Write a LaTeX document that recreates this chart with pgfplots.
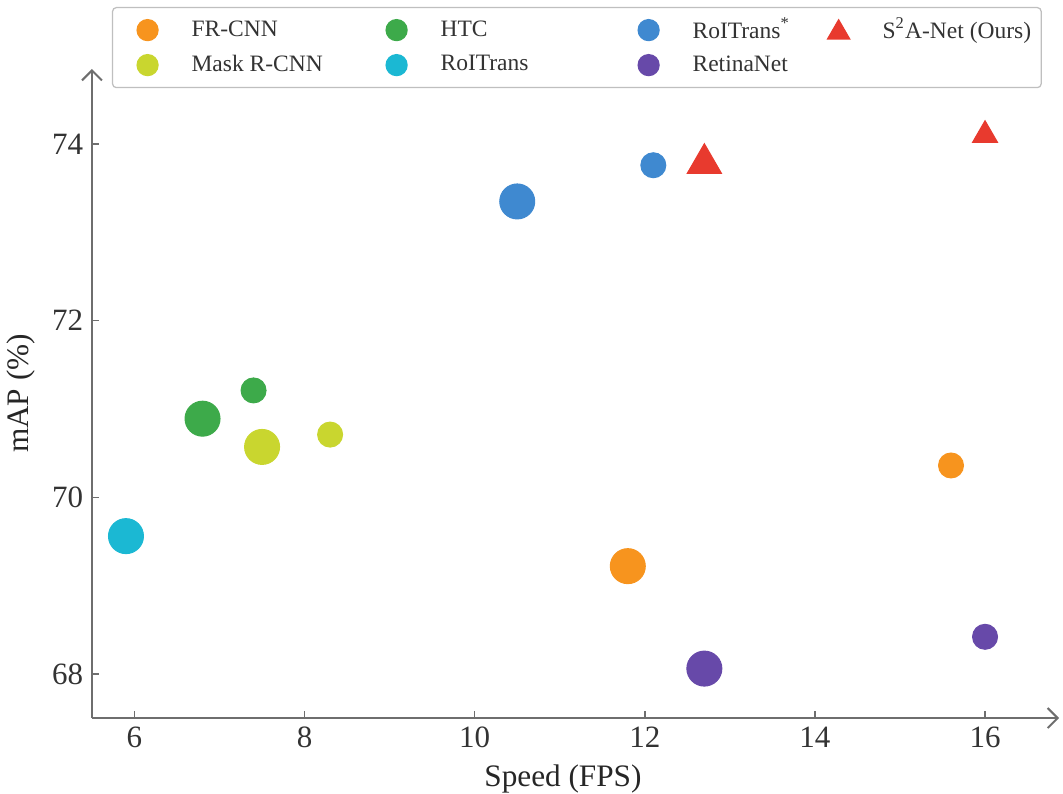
\documentclass[border=0pt]{standalone}
\usepackage{fontspec}
\setmainfont{Liberation Serif}
\usepackage{pgfplots}
\pgfplotsset{compat=1.18}
\usetikzlibrary{arrows.meta}

\definecolor{frcnn}{HTML}{F7941E}
\definecolor{maskr}{HTML}{C9D62F}
\definecolor{htc}{HTML}{3DAA4A}
\definecolor{roit}{HTML}{1BB8D3}
\definecolor{roitstar}{HTML}{3F89D0}
\definecolor{retina}{HTML}{6749A9}
\definecolor{s2a}{HTML}{E83A2E}
\definecolor{axisgray}{HTML}{6E6E6E}

\pgfplotsset{
  dot/.style 2 args={only marks, mark=*, mark size=#2, color=#1,
    mark options={draw=#1, fill=#1}},
  tri/.style 2 args={only marks, mark=triangle*, mark size=#2, color=#1,
    mark options={draw=#1, fill=#1}},
  trilegend/.style={legend image code/.code={
        \path[draw=none, fill=none] (-10pt,-7pt) rectangle (17.6pt,7pt);
        \draw[##1, mark size=5.1pt] plot coordinates {(0pt,-1pt)};
    }},
}

\begin{document}
\begin{tikzpicture}
\begin{axis}[
    scale only axis,
    width=386.8pt, height=259.6pt,
    xmin=5.5, xmax=16.87,
    ymin=67.5, ymax=74.85,
    axis lines=left,
    axis line style={axisgray, line width=0.8pt, -{Straight Barb[length=4pt,width=8pt]}},
    xtick={6,8,10,12,14,16},
    ytick={68,70,72,74},
    tick align=inside,
    major tick length=2.8pt,
    tick style={axisgray, line width=0.6pt},
    /pgf/number format/assume math mode=true,
    ticklabel style={font=\fontsize{12.4}{14}\selectfont, text=black!80},
    label style={font=\fontsize{12.5}{14}\selectfont, text=black!85},
    xlabel={Speed (FPS)},
    ylabel={mAP (\%)},
    xlabel style={xshift=-5pt},
    clip=false,
    legend columns=4,
    legend cell align=left,
    legend style={
        at={(0,1)}, anchor=north west, xshift=8pt, yshift=24.8pt,
        draw=black!25, line width=0.5pt, rounded corners=1.5pt,
        inner xsep=4pt, inner ysep=2pt,
        column sep=0pt, row sep=0pt,
        font=\fontsize{9.4}{11}\selectfont, text=black!80,
        nodes={inner xsep=0pt, inner ysep=0pt},
    },
    legend image code/.code={
        \path[draw=none, fill=none] (-10pt,-7pt) rectangle (17.6pt,7pt);
        \draw[#1, mark size=4.2pt] plot coordinates {(0pt,0pt)};
    },
]

% legend row 1
\addplot[dot={frcnn}{7pt}] coordinates {(11.8,69.22)};
\addlegendentry{\makebox[72pt][l]{FR-CNN}}
\addplot[dot={htc}{7pt}] coordinates {(6.8,70.89)};
\addlegendentry{\makebox[73.2pt][l]{HTC}}
\addplot[dot={roitstar}{7pt}] coordinates {(10.5,73.35)};
\addlegendentry{\makebox[48.4pt][l]{RoITrans\textsuperscript{*}}}
\addplot[tri={s2a}{7.9pt}, trilegend] coordinates {(12.7,73.78)};
\addlegendentry{S\textsuperscript{2}A-Net (Ours)}
% legend row 2
\addplot[dot={maskr}{7pt}] coordinates {(7.5,70.57)};
\addlegendentry{\makebox[72pt][l]{Mask R-CNN}}
\addplot[dot={roit}{7pt}] coordinates {(5.9,69.56)};
\addlegendentry{\makebox[73.2pt][l]{RoITrans}}
\addplot[dot={retina}{7pt}] coordinates {(12.7,68.06)};
\addlegendentry{\makebox[48.4pt][l]{RetinaNet}}

% smaller points
\addplot[dot={frcnn}{5pt}, forget plot] coordinates {(15.6,70.36)};
\addplot[dot={htc}{5pt}, forget plot] coordinates {(7.4,71.21)};
\addplot[dot={roitstar}{5pt}, forget plot] coordinates {(12.1,73.76)};
\addplot[tri={s2a}{5.8pt}, forget plot] coordinates {(16.0,74.1)};
\addplot[dot={maskr}{5pt}, forget plot] coordinates {(8.3,70.71)};
\addplot[dot={retina}{5pt}, forget plot] coordinates {(16.0,68.42)};

\coordinate (bl) at (rel axis cs:-0.0951,-0.1156);
\coordinate (tr) at (rel axis cs:1.0041,1.1063);
\end{axis}
\pgfresetboundingbox
\path (bl) rectangle (tr);
\end{tikzpicture}
\end{document}
